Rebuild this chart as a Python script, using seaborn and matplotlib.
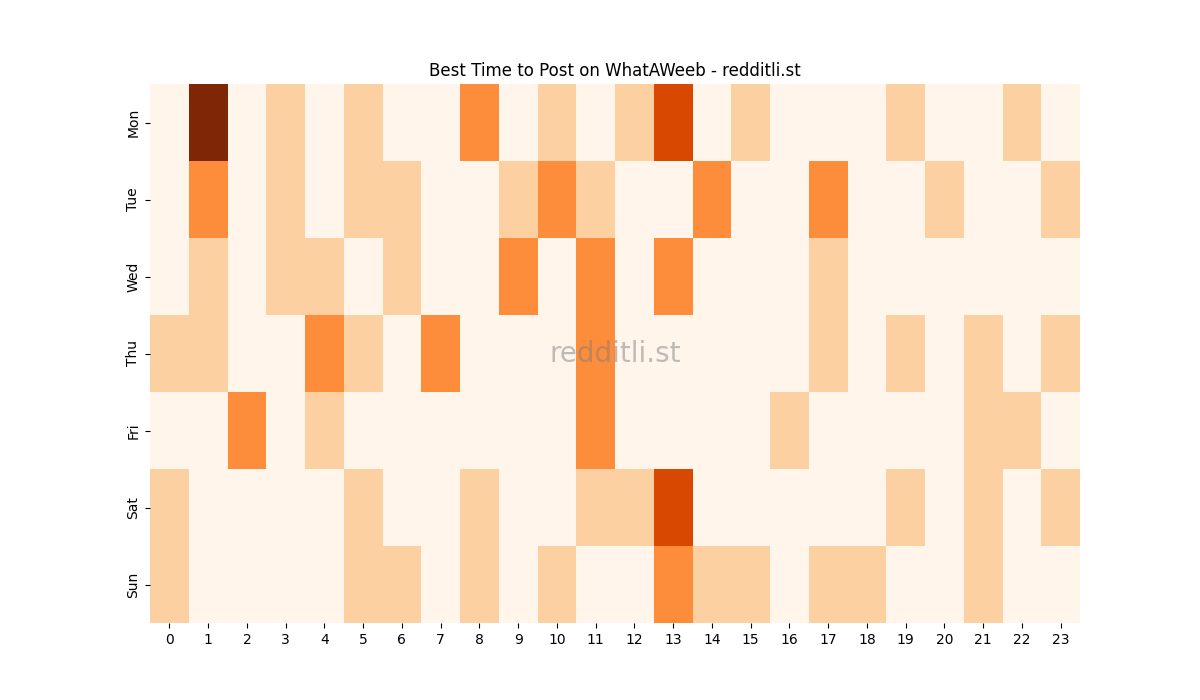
import matplotlib
matplotlib.use("Agg")
import matplotlib.pyplot as plt
import seaborn as sns
import pandas as pd

days = ["Mon", "Tue", "Wed", "Thu", "Fri", "Sat", "Sun"]
hours = list(range(24))

mon = [0, 4, 0, 1, 0, 1, 0, 0, 2, 0, 1, 0, 1, 3, 0, 1, 0, 0, 0, 1, 0, 0, 1, 0]
tue = [0, 2, 0, 1, 0, 1, 1, 0, 0, 1, 2, 1, 0, 0, 2, 0, 0, 2, 0, 0, 1, 0, 0, 1]
wed = [0, 1, 0, 1, 1, 0, 1, 0, 0, 2, 0, 2, 0, 2, 0, 0, 0, 1, 0, 0, 0, 0, 0, 0]
thu = [1, 1, 0, 0, 2, 1, 0, 2, 0, 0, 0, 2, 0, 0, 0, 0, 0, 1, 0, 1, 0, 1, 0, 1]
fri = [0, 0, 2, 0, 1, 0, 0, 0, 0, 0, 0, 2, 0, 0, 0, 0, 1, 0, 0, 0, 0, 1, 1, 0]
sat = [1, 0, 0, 0, 0, 1, 0, 0, 1, 0, 0, 1, 1, 3, 0, 0, 0, 0, 0, 1, 0, 1, 0, 1]
sun = [1, 0, 0, 0, 0, 1, 1, 0, 1, 0, 1, 0, 0, 2, 1, 1, 0, 1, 1, 0, 0, 1, 0, 0]

df = pd.DataFrame([mon, tue, wed, thu, fri, sat, sun], index=days, columns=hours)

fig, ax = plt.subplots(figsize=(12, 7), dpi=100)
sns.heatmap(df, cmap="Oranges", cbar=False, ax=ax)
ax.set_title("Best Time to Post on WhatAWeeb - redditli.st")
ax.set_yticklabels(days, rotation=90, va="center")
ax.set_xticklabels([str(h) for h in hours], rotation=0)
ax.text(0.5, 0.5, "redditli.st", transform=ax.transAxes, ha="center", va="center",
        fontsize=20, color="grey", alpha=0.5)
fig.savefig("out.png", dpi=100)
